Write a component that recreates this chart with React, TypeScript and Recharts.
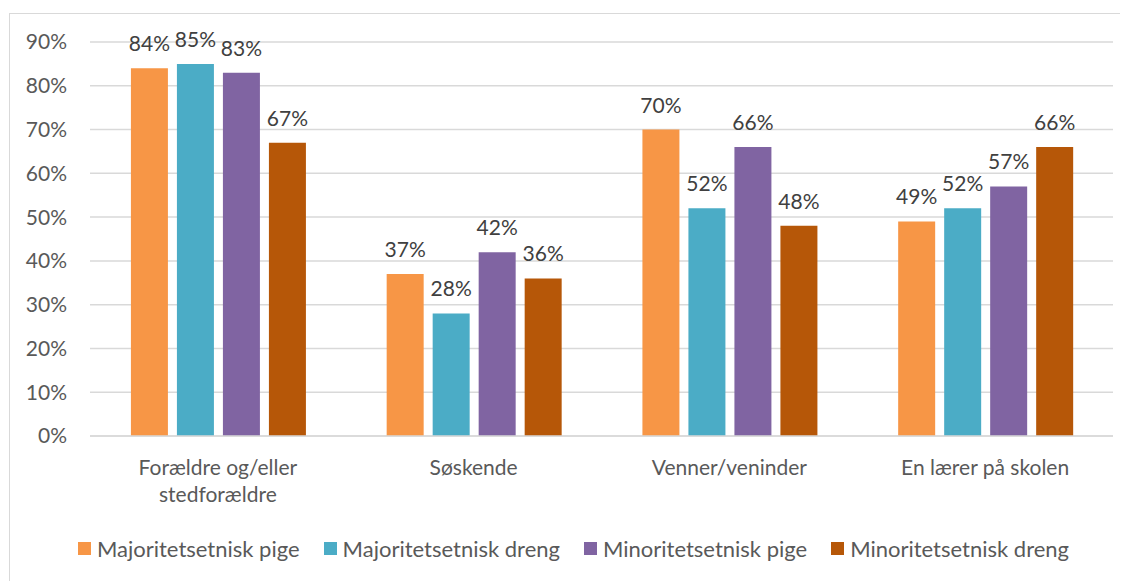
import { BarChart, Bar, XAxis, YAxis, CartesianGrid, Legend, LabelList, Text } from "recharts";

const categories = ["Forældre og/eller stedforældre", "Søskende", "Venner/veninder", "En lærer på skolen"];
const majPige = [84, 37, 70, 49];
const majDreng = [85, 28, 52, 52];
const minPige = [83, 42, 66, 57];
const minDreng = [67, 36, 48, 66];
const yTicks = [0, 10, 20, 30, 40, 50, 60, 70, 80, 90];

const series = [
  { key: "majPige", name: "Majoritetsetnisk pige", color: "#F79646" },
  { key: "majDreng", name: "Majoritetsetnisk dreng", color: "#4BACC6" },
  { key: "minPige", name: "Minoritetsetnisk pige", color: "#8064A2" },
  { key: "minDreng", name: "Minoritetsetnisk dreng", color: "#B65708" },
];

const data = categories.map((name, i) => ({
  name,
  majPige: majPige[i],
  majDreng: majDreng[i],
  minPige: minPige[i],
  minDreng: minDreng[i],
}));

const FONT = "Lato, 'Noto Sans', sans-serif";

function CatTick(props: any) {
  const { x, y, payload } = props;
  return (
    <Text
      x={x}
      y={y + 16}
      width={200}
      textAnchor="middle"
      verticalAnchor="start"
      fill="#595959"
      fontSize={21}
      fontFamily={FONT}
      lineHeight={27}
      style={{ fontSize: 21, fontFamily: FONT }}
    >
      {payload.value}
    </Text>
  );
}

// own legend so the order stays as in the source and spacing can be tuned
function LegendBox() {
  return (
    <div style={{ display: "flex", justifyContent: "center", gap: 24, paddingLeft: 26, fontFamily: FONT, fontSize: 22, color: "#595959" }}>
      {series.map((s) => (
        <div key={s.key} style={{ display: "flex", alignItems: "center" }}>
          <span style={{ width: 13, height: 13, background: s.color, display: "inline-block", marginRight: 6 }} />
          <span>{s.name}</span>
        </div>
      ))}
    </div>
  );
}

export default function App() {
  return (
    <div style={{ position: "relative", width: 1120, height: 573 }}>
      <div
        style={{
          position: "absolute",
          left: 1,
          top: 5,
          width: 1130,
          height: 580,
          border: "1.5px solid #d9d9d9",
          boxSizing: "border-box",
        }}
      />
      <BarChart
        width={1120}
        height={573}
        data={data}
        margin={{ top: 34, right: 15, left: 0, bottom: 19 }}
        barGap={9}
        barCategoryGap="16%"
        style={{ fontFamily: FONT }}
      >
        <CartesianGrid vertical={false} stroke="#d9d9d9" strokeWidth={1.5} />
        <XAxis
          dataKey="name"
          axisLine={{ stroke: "#d9d9d9", strokeWidth: 1.5 }}
          tickLine={false}
          height={99}
          interval={0}
          tick={<CatTick />}
        />
        <YAxis
          width={82}
          domain={[0, 90]}
          ticks={yTicks}
          axisLine={false}
          tickLine={false}
          tickMargin={17}
          tickFormatter={(v: number) => `${v}%`}
          tick={{ fill: "#595959", fontSize: 21, fontFamily: FONT }}
        />
        <Legend verticalAlign="bottom" content={<LegendBox />} />
        {series.map((s) => (
          <Bar key={s.key} dataKey={s.key} name={s.name} fill={s.color} isAnimationActive={false}>
            <LabelList
              dataKey={s.key}
              position="top"
              offset={17}
              formatter={(v: number) => `${v}%`}
              style={{ fill: "#404040", fontSize: 21, fontFamily: FONT }}
            />
          </Bar>
        ))}
      </BarChart>
    </div>
  );
}
